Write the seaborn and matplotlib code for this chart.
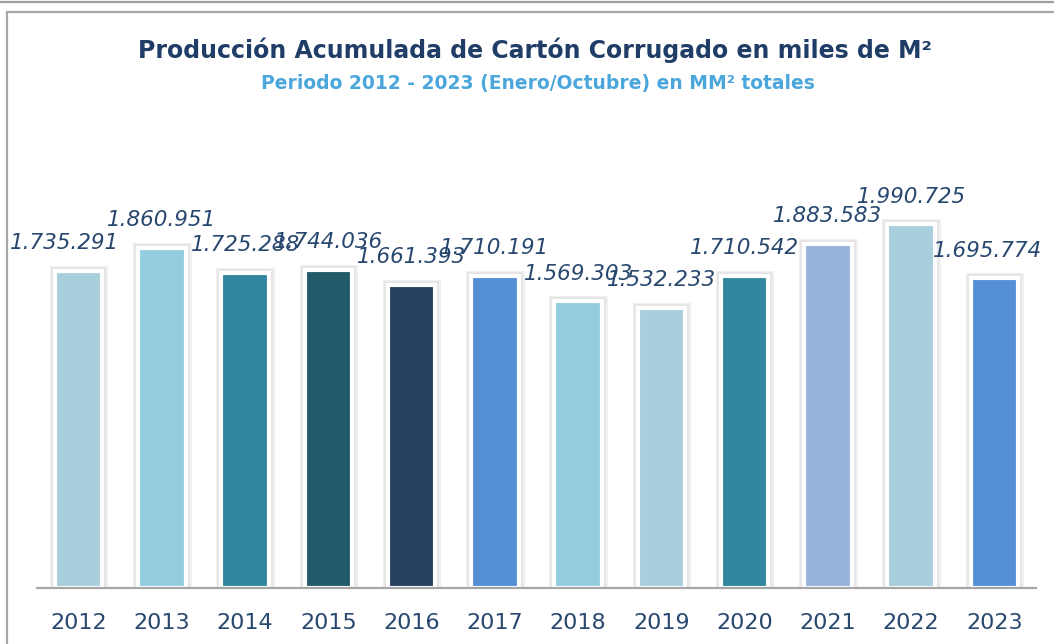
import matplotlib
matplotlib.use("Agg")
import matplotlib.pyplot as plt
import matplotlib.patheffects as pe
from matplotlib.patches import Rectangle
from matplotlib.lines import Line2D
import seaborn as sns
import pandas as pd

years = ["2012", "2013", "2014", "2015", "2016", "2017",
         "2018", "2019", "2020", "2021", "2022", "2023"]
values = [1735291, 1860951, 1725288, 1744036, 1661393, 1710191,
          1569303, 1532233, 1710542, 1883583, 1990725, 1695774]
colors = ["#a9cfdc", "#94cce0", "#30869c", "#215a68", "#253f5f", "#558fd6",
          "#94cce0", "#a9cfdc", "#30869c", "#94b3d8", "#a9cfdc", "#558fd6"]
labels = ["1.735.291", "1.860.951", "1.725.288", "1.744.036", "1.661.393", "1.710.191",
          "1.569.303", "1.532.233", "1.710.542", "1.883.583", "1.990.725", "1.695.774"]

title = "Producción Acumulada de Cartón Corrugado en miles de M²"
subtitle = "Periodo 2012 - 2023 (Enero/Octubre) en MM² totales"

navy = "#28476f"

sns.set_theme(style="white")
plt.rcParams["font.family"] = ["DejaVu Sans"]

df = pd.DataFrame({"year": years, "value": values})

fig = plt.figure(figsize=(10.54, 6.44), dpi=100)
ax = fig.add_axes([37 / 1054, 1 - 588 / 644, 999 / 1054, 468 / 644])

sns.barplot(data=df, x="year", y="value", hue="year", palette=colors,
            legend=False, width=0.57, saturation=1, ax=ax)

# white border with a soft grey halo around each bar
for p in ax.patches:
    p.set_edgecolor("white")
    p.set_linewidth(3.0)
    p.set_path_effects([pe.Stroke(linewidth=8, foreground="#f0f0f0"),
                        pe.Stroke(linewidth=5.5, foreground="#e4e4e4"),
                        pe.Normal()])

ax.set_xlim(-0.5, 11.5)
ax.set_ylim(0, 468 * 5476)

for i, (v, lab) in enumerate(zip(values, labels)):
    dx = 0
    if i == 0:
        dx = -10
    elif i == len(values) - 1:
        dx = -5
    ax.annotate(lab, (i, v), xytext=(dx, 20), textcoords="offset points",
                ha="center", va="center", fontsize=15.5, style="italic", color=navy)

ax.set_xlabel("")
ax.set_ylabel("")
ax.set_yticks([])
ax.tick_params(axis="x", length=0, pad=18, labelsize=16, labelcolor=navy)
for s in ["top", "right", "left"]:
    ax.spines[s].set_visible(False)
ax.spines["bottom"].set_color("#a6a6a6")
ax.spines["bottom"].set_linewidth(1.6)

# frame and top rule
fig.patches.append(Rectangle((7 / 1054, -0.1), 1.1, 1.1 - 12 / 644,
                             transform=fig.transFigure, fill=False,
                             edgecolor="#a6a6a6", linewidth=1.6))
fig.lines.append(Line2D([0, 1], [1 - 1.5 / 644, 1 - 1.5 / 644], transform=fig.transFigure,
                        color="#a0a0a0", linewidth=1.6))

fig.text(535 / 1054, 1 - 50 / 644, title, ha="center", va="center",
         fontsize=17, fontweight="bold", color="#1f3d66")
fig.text(538 / 1054, 1 - 83 / 644, subtitle, ha="center", va="center",
         fontsize=13.5, fontweight="bold", color="#4ba6dc")

fig.savefig("out.png", dpi=100)
